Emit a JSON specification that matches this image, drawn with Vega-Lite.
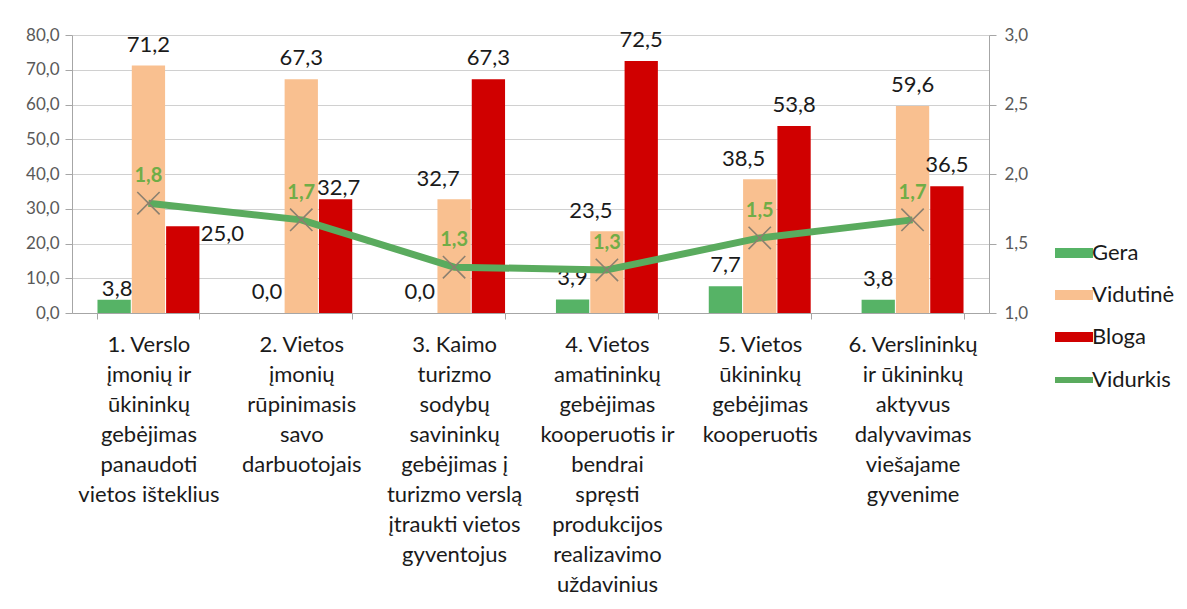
{
  "$schema": "https://vega.github.io/schema/vega-lite/v6.json",
  "width": 917,
  "height": 278,
  "autosize": {"type": "none"},
  "padding": {"left": 72, "top": 35, "right": 198, "bottom": 296},
  "background": "white",
  "config": {
    "locale": {"number": {"decimal": ",", "thousands": " ", "grouping": [3], "currency": ["", ""]}},
    "font": "Lato",
    "view": {"stroke": null},
    "axis": {"domainColor": "#a6a6a6", "tickColor": "#a6a6a6", "gridColor": "#d0d0d0", "labelColor": "#595959", "labelFont": "Lato"}
  },
  "datasets": {
    "bars": [
      {"n": 1, "cat": "1. Verslo|įmonių ir|ūkininkų|gebėjimas|panaudoti|vietos išteklius", "rating": "Gera", "value": 3.8},
      {"n": 1, "cat": "1. Verslo|įmonių ir|ūkininkų|gebėjimas|panaudoti|vietos išteklius", "rating": "Vidutinė", "value": 71.2},
      {"n": 1, "cat": "1. Verslo|įmonių ir|ūkininkų|gebėjimas|panaudoti|vietos išteklius", "rating": "Bloga", "value": 25.0},
      {"n": 2, "cat": "2. Vietos|įmonių|rūpinimasis|savo|darbuotojais", "rating": "Gera", "value": 0.0},
      {"n": 2, "cat": "2. Vietos|įmonių|rūpinimasis|savo|darbuotojais", "rating": "Vidutinė", "value": 67.3},
      {"n": 2, "cat": "2. Vietos|įmonių|rūpinimasis|savo|darbuotojais", "rating": "Bloga", "value": 32.7},
      {"n": 3, "cat": "3. Kaimo|turizmo|sodybų|savininkų|gebėjimas į|turizmo verslą|įtraukti vietos|gyventojus", "rating": "Gera", "value": 0.0},
      {"n": 3, "cat": "3. Kaimo|turizmo|sodybų|savininkų|gebėjimas į|turizmo verslą|įtraukti vietos|gyventojus", "rating": "Vidutinė", "value": 32.7},
      {"n": 3, "cat": "3. Kaimo|turizmo|sodybų|savininkų|gebėjimas į|turizmo verslą|įtraukti vietos|gyventojus", "rating": "Bloga", "value": 67.3},
      {"n": 4, "cat": "4. Vietos|amatininkų|gebėjimas|kooperuotis ir|bendrai|spręsti|produkcijos|realizavimo|uždavinius", "rating": "Gera", "value": 3.9},
      {"n": 4, "cat": "4. Vietos|amatininkų|gebėjimas|kooperuotis ir|bendrai|spręsti|produkcijos|realizavimo|uždavinius", "rating": "Vidutinė", "value": 23.5},
      {"n": 4, "cat": "4. Vietos|amatininkų|gebėjimas|kooperuotis ir|bendrai|spręsti|produkcijos|realizavimo|uždavinius", "rating": "Bloga", "value": 72.5},
      {"n": 5, "cat": "5. Vietos|ūkininkų|gebėjimas|kooperuotis", "rating": "Gera", "value": 7.7},
      {"n": 5, "cat": "5. Vietos|ūkininkų|gebėjimas|kooperuotis", "rating": "Vidutinė", "value": 38.5},
      {"n": 5, "cat": "5. Vietos|ūkininkų|gebėjimas|kooperuotis", "rating": "Bloga", "value": 53.8},
      {"n": 6, "cat": "6. Verslininkų|ir ūkininkų|aktyvus|dalyvavimas|viešajame|gyvenime", "rating": "Gera", "value": 3.8},
      {"n": 6, "cat": "6. Verslininkų|ir ūkininkų|aktyvus|dalyvavimas|viešajame|gyvenime", "rating": "Vidutinė", "value": 59.6},
      {"n": 6, "cat": "6. Verslininkų|ir ūkininkų|aktyvus|dalyvavimas|viešajame|gyvenime", "rating": "Bloga", "value": 36.5}
    ],
    "avg": [
      {"cat": "1. Verslo|įmonių ir|ūkininkų|gebėjimas|panaudoti|vietos išteklius", "avg": 1.79},
      {"cat": "2. Vietos|įmonių|rūpinimasis|savo|darbuotojais", "avg": 1.67},
      {"cat": "3. Kaimo|turizmo|sodybų|savininkų|gebėjimas į|turizmo verslą|įtraukti vietos|gyventojus", "avg": 1.33},
      {"cat": "4. Vietos|amatininkų|gebėjimas|kooperuotis ir|bendrai|spręsti|produkcijos|realizavimo|uždavinius", "avg": 1.31},
      {"cat": "5. Vietos|ūkininkų|gebėjimas|kooperuotis", "avg": 1.54},
      {"cat": "6. Verslininkų|ir ūkininkų|aktyvus|dalyvavimas|viešajame|gyvenime", "avg": 1.67}
    ]
  },
  "encoding": {
    "x": {
      "field": "cat",
      "type": "nominal",
      "sort": null,
      "scale": {"paddingInner": 0.333, "paddingOuter": 0.1667},
      "axis": {
        "title": null,
        "labelExpr": "split(datum.label, '|')",
        "labelAngle": 0,
        "labelFontSize": 22,
        "labelColor": "#1a1a1a",
        "labelLineHeight": 30,
        "labelBaseline": "top",
        "labelPadding": 15,
        "labelLimit": 300,
        "labelOverlap": false,
        "tickBand": "extent",
        "tickSize": 6,
        "grid": false
      }
    }
  },
  "layer": [
    {
      "data": {"name": "bars"},
      "encoding": {
        "xOffset": {"field": "rating", "type": "nominal", "scale": {"domain": ["Gera", "Vidutinė", "Bloga"], "paddingInner": 0.03}},
        "y": {
          "field": "value",
          "type": "quantitative",
          "scale": {"domain": [0, 80], "nice": false},
          "axis": {"orient": "left", "values": [0, 10, 20, 30, 40, 50, 60, 70, 80], "format": ".1f", "grid": true, "title": null, "tickSize": 7, "labelPadding": 6, "labelFontSize": 17}
        }
      },
      "layer": [
        {
          "mark": {"type": "bar"},
          "encoding": {
            "color": {
              "field": "rating",
              "type": "nominal",
              "scale": {"domain": ["Gera", "Vidutinė", "Bloga", "Vidurkis"], "range": ["#56b366", "#f9c090", "#d00000", "#5aab5e"]},
              "legend": {
                "title": null,
                "orient": "none",
                "legendX": 991,
                "legendY": 207,
                "padding": 0,
                "labelFontSize": 22,
                "labelColor": "#1a1a1a",
                "labelOffset": 7,
                "symbolType": "M-1,-0.26L1,-0.26L1,0.26L-1,0.26Z",
                "symbolSize": 1444,
                "symbolStrokeWidth": 0,
                "rowPadding": 20,
                "encode": {
                  "symbols": {
                    "update": {
                      "shape": {"signal": "datum.value === 'Vidurkis' ? 'M-1,0L1,0' : 'M-1,-0.26L1,-0.26L1,0.26L-1,0.26Z'"},
                      "stroke": {"signal": "datum.value === 'Vidurkis' ? '#5aab5e' : 'transparent'"},
                      "strokeWidth": {"signal": "datum.value === 'Vidurkis' ? 6 : 0"}
                    }
                  }
                }
              }
            }
          }
        },
        {
          "transform": [{"filter": "!(datum.n == 1 && datum.rating == 'Bloga') && !(datum.n >= 3 && datum.n <= 5 && datum.rating == 'Vidutinė') && !(datum.n == 1 && datum.rating == 'Gera') && !(datum.n == 2 && datum.rating == 'Bloga')"}],
          "mark": {"type": "text", "baseline": "middle", "dy": -21, "fontSize": 22, "color": "#1a1a1a"},
          "encoding": {"text": {"field": "value", "type": "quantitative", "format": ".1f"}}
        },
        {
          "transform": [{"filter": "(datum.n == 1 && datum.rating == 'Gera') || (datum.n == 2 && datum.rating == 'Bloga')"}],
          "mark": {"type": "text", "baseline": "middle", "dy": -11, "dx": 3, "fontSize": 22, "color": "#1a1a1a"},
          "encoding": {"text": {"field": "value", "type": "quantitative", "format": ".1f"}}
        },
        {
          "transform": [{"filter": "datum.n == 1 && datum.rating == 'Bloga'"}],
          "mark": {"type": "text", "baseline": "middle", "align": "left", "dx": 18, "dy": 8, "fontSize": 22, "color": "#1a1a1a"},
          "encoding": {"text": {"field": "value", "type": "quantitative", "format": ".1f"}}
        },
        {
          "transform": [{"filter": "datum.n >= 3 && datum.n <= 5 && datum.rating == 'Vidutinė'"}],
          "mark": {"type": "text", "baseline": "middle", "dx": -16, "dy": -20, "fontSize": 22, "color": "#1a1a1a"},
          "encoding": {"text": {"field": "value", "type": "quantitative", "format": ".1f"}}
        }
      ]
    },
    {
      "data": {"name": "avg"},
      "encoding": {
        "y": {
          "field": "avg",
          "type": "quantitative",
          "scale": {"domain": [1, 3], "nice": false, "zero": false},
          "axis": {"orient": "right", "values": [1, 1.5, 2, 2.5, 3], "format": ".1f", "grid": false, "title": null, "tickSize": 7, "labelPadding": 8, "labelFontSize": 17}
        }
      },
      "layer": [
        {
          "mark": {"type": "line", "strokeWidth": 7, "strokeCap": "butt", "strokeJoin": "round"},
          "encoding": {"color": {"datum": "Vidurkis"}}
        },
        {
          "mark": {"type": "point", "shape": "M-1,-1L1,1M1,-1L-1,1", "filled": false, "stroke": "#8c8070", "strokeWidth": 1.6, "size": 500, "opacity": 1},
          "encoding": {}
        },
        {
          "mark": {"type": "text", "baseline": "middle", "dy": -27, "fontSize": 20, "fontWeight": "bold", "color": "#70ad47"},
          "encoding": {"text": {"field": "avg", "type": "quantitative", "format": ".1f"}}
        }
      ]
    }
  ],
  "resolve": {"scale": {"y": "independent"}}
}
